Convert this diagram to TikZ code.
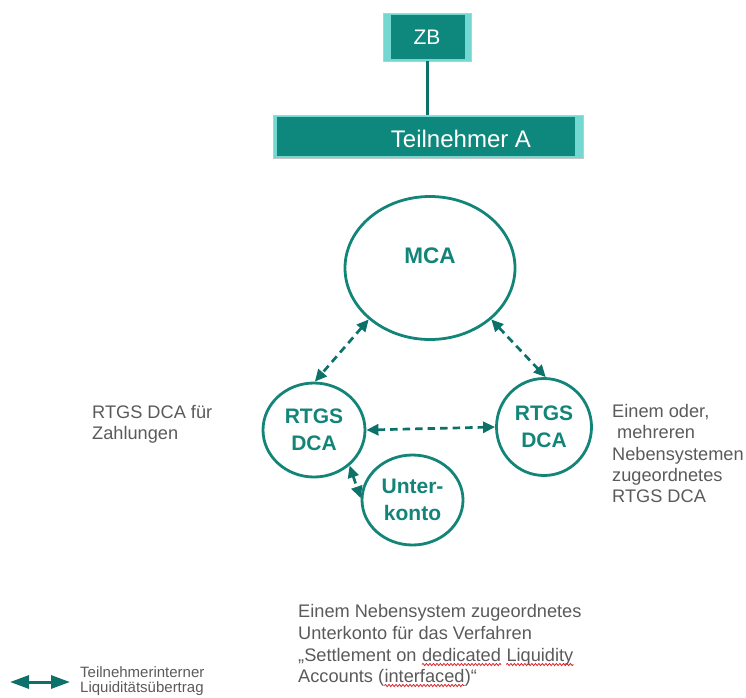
\documentclass[tikz,border=0pt]{standalone}
\usepackage{fontspec}
\setmainfont{Liberation Sans}
\usetikzlibrary{shapes.geometric,arrows.meta,decorations.pathmorphing}
\definecolor{boxteal}{HTML}{0E877C}
\definecolor{bevel}{HTML}{72D8D1}
\definecolor{acct}{HTML}{138478}
\definecolor{flowc}{HTML}{0C7168}
\definecolor{txtgray}{HTML}{5A5A5A}
\definecolor{spellred}{HTML}{D8262B}

\begin{document}
\begin{tikzpicture}[x=1pt,y=-1pt,
  bevelbox/.style 2 args={draw=black!22, line width=0.6pt, fill=bevel, inner sep=0pt,
    path picture={\fill[boxteal]
      ([xshift=#1,yshift=2pt]path picture bounding box.south west) rectangle
      ([xshift=-#2,yshift=-2pt]path picture bounding box.north east);}},
  boxtext/.style={text=white, inner sep=0pt},
  stem/.style={draw=flowc, line width=3pt},
  acctnode/.style={ellipse, draw=acct, line width=2.8pt, inner sep=0pt, text=acct,
    font=\fontsize{21}{27.5}\selectfont\bfseries, align=center},
  transfer/.style={draw=flowc, line width=2.7pt, dash pattern=on 7.5pt off 5pt,
    {Triangle[length=12pt,width=11pt]}-{Triangle[length=12pt,width=11pt]}},
  legendarrow/.style={draw=flowc, line width=3pt,
    {Triangle[length=19pt,width=13pt]}-{Triangle[length=19pt,width=13pt]}},
  note/.style={text=txtgray, inner sep=0pt, anchor=base west, font=\fontsize{18.2}{21.5}\selectfont},
  smallnote/.style={text=txtgray, inner sep=0pt, anchor=base west, font=\fontsize{15}{16}\selectfont},
  spellmark/.style={draw=spellred, line width=0.8pt, decorate,
    decoration={snake, amplitude=1.1pt, segment length=3.5pt}}
]
\useasboundingbox (0,0) rectangle (746,697);

% central bank and participant
\node[bevelbox={8pt}{6pt}, minimum width=88pt, minimum height=48pt,
      font=\fontsize{21}{25}\selectfont, text=white] (zb) at (427,37) {ZB};
\node[bevelbox={4pt}{8pt}, minimum width=310pt, minimum height=43pt] (ta) at (428,136.5) {};
\node[boxtext, anchor=base, font=\fontsize{24}{28}\selectfont] (tatext) at (461,147) {Teilnehmer A};
\draw[stem] (zb.south) -- (zb.south |- ta.north);

% accounts
\node[acctnode, minimum width=170pt, minimum height=143pt] (mca) at (430,268) {};
\node[text=acct, inner sep=0pt, font=\fontsize{22.5}{26}\selectfont\bfseries] (mcatext) at (430,256) {MCA};
\node[acctnode, minimum width=102pt, minimum height=94pt] (ldca) at (314,430) {RTGS\\DCA};
\node[acctnode, minimum width=95pt, minimum height=97pt] (rdca) at (544,427) {RTGS\\DCA};
\node[acctnode, minimum width=101pt, minimum height=90pt] (unter) at (412.5,500) {Unter-\\konto};

% liquidity transfers
\draw[transfer] (mca.220) -- (ldca.89);
\draw[transfer] (mca.320) -- (rdca.88);
\draw[transfer] (ldca.east) -- (rdca.west);
\draw[transfer] (ldca.-45) -- (unter.178);

% explanations
\node[note] (l1) at (92,418) {RTGS DCA für};
\node[note] (l2) at (92,439) {Zahlungen};

\node[note] (r1) at (612,417) {Einem oder,};
\node[note] (r2) at (617,438) {mehreren};
\node[note] (r3) at (612,460) {Nebensystemen};
\node[note] (r4) at (612,481) {zugeordnetes};
\node[note] (r5) at (612,502) {RTGS DCA};

\node[note] (b1) at (298,617) {Einem Nebensystem zugeordnetes};
\node[note] (b2) at (298,639) {Unterkonto für das Verfahren};
\node[note] (b3a) at (298,661) {„Settlement on};
\node[note] (b3b) at ([xshift=5.1pt]b3a.base east) {dedicated};
\node[note] (b3c) at ([xshift=5.1pt]b3b.base east) {Liquidity};
\node[note] (b4a) at (298,682) {Accounts (};
\node[note] (b4b) at (b4a.base east) {interfaced};
\node[note] (b4c) at (b4b.base east) {)“};

\draw[spellmark] ([yshift=-3.5pt]b3b.base west) -- ([yshift=-3.5pt]b3b.base east);
\draw[spellmark] ([yshift=-3.5pt]b3c.base west) -- ([yshift=-3.5pt]b3c.base east);
\draw[spellmark] ([yshift=-3.5pt]b4b.base west) -- ([yshift=-3.5pt]b4b.base east);

% legend
\coordinate (lga) at (10,682);
\coordinate (lgb) at (70,682);
\draw[legendarrow] (lga) -- (lgb);
\node[smallnote] (lg1) at (80,677) {Teilnehmerinterner};
\node[smallnote] (lg2) at (80,692.5) {Liquiditätsübertrag};
\end{tikzpicture}
\end{document}
